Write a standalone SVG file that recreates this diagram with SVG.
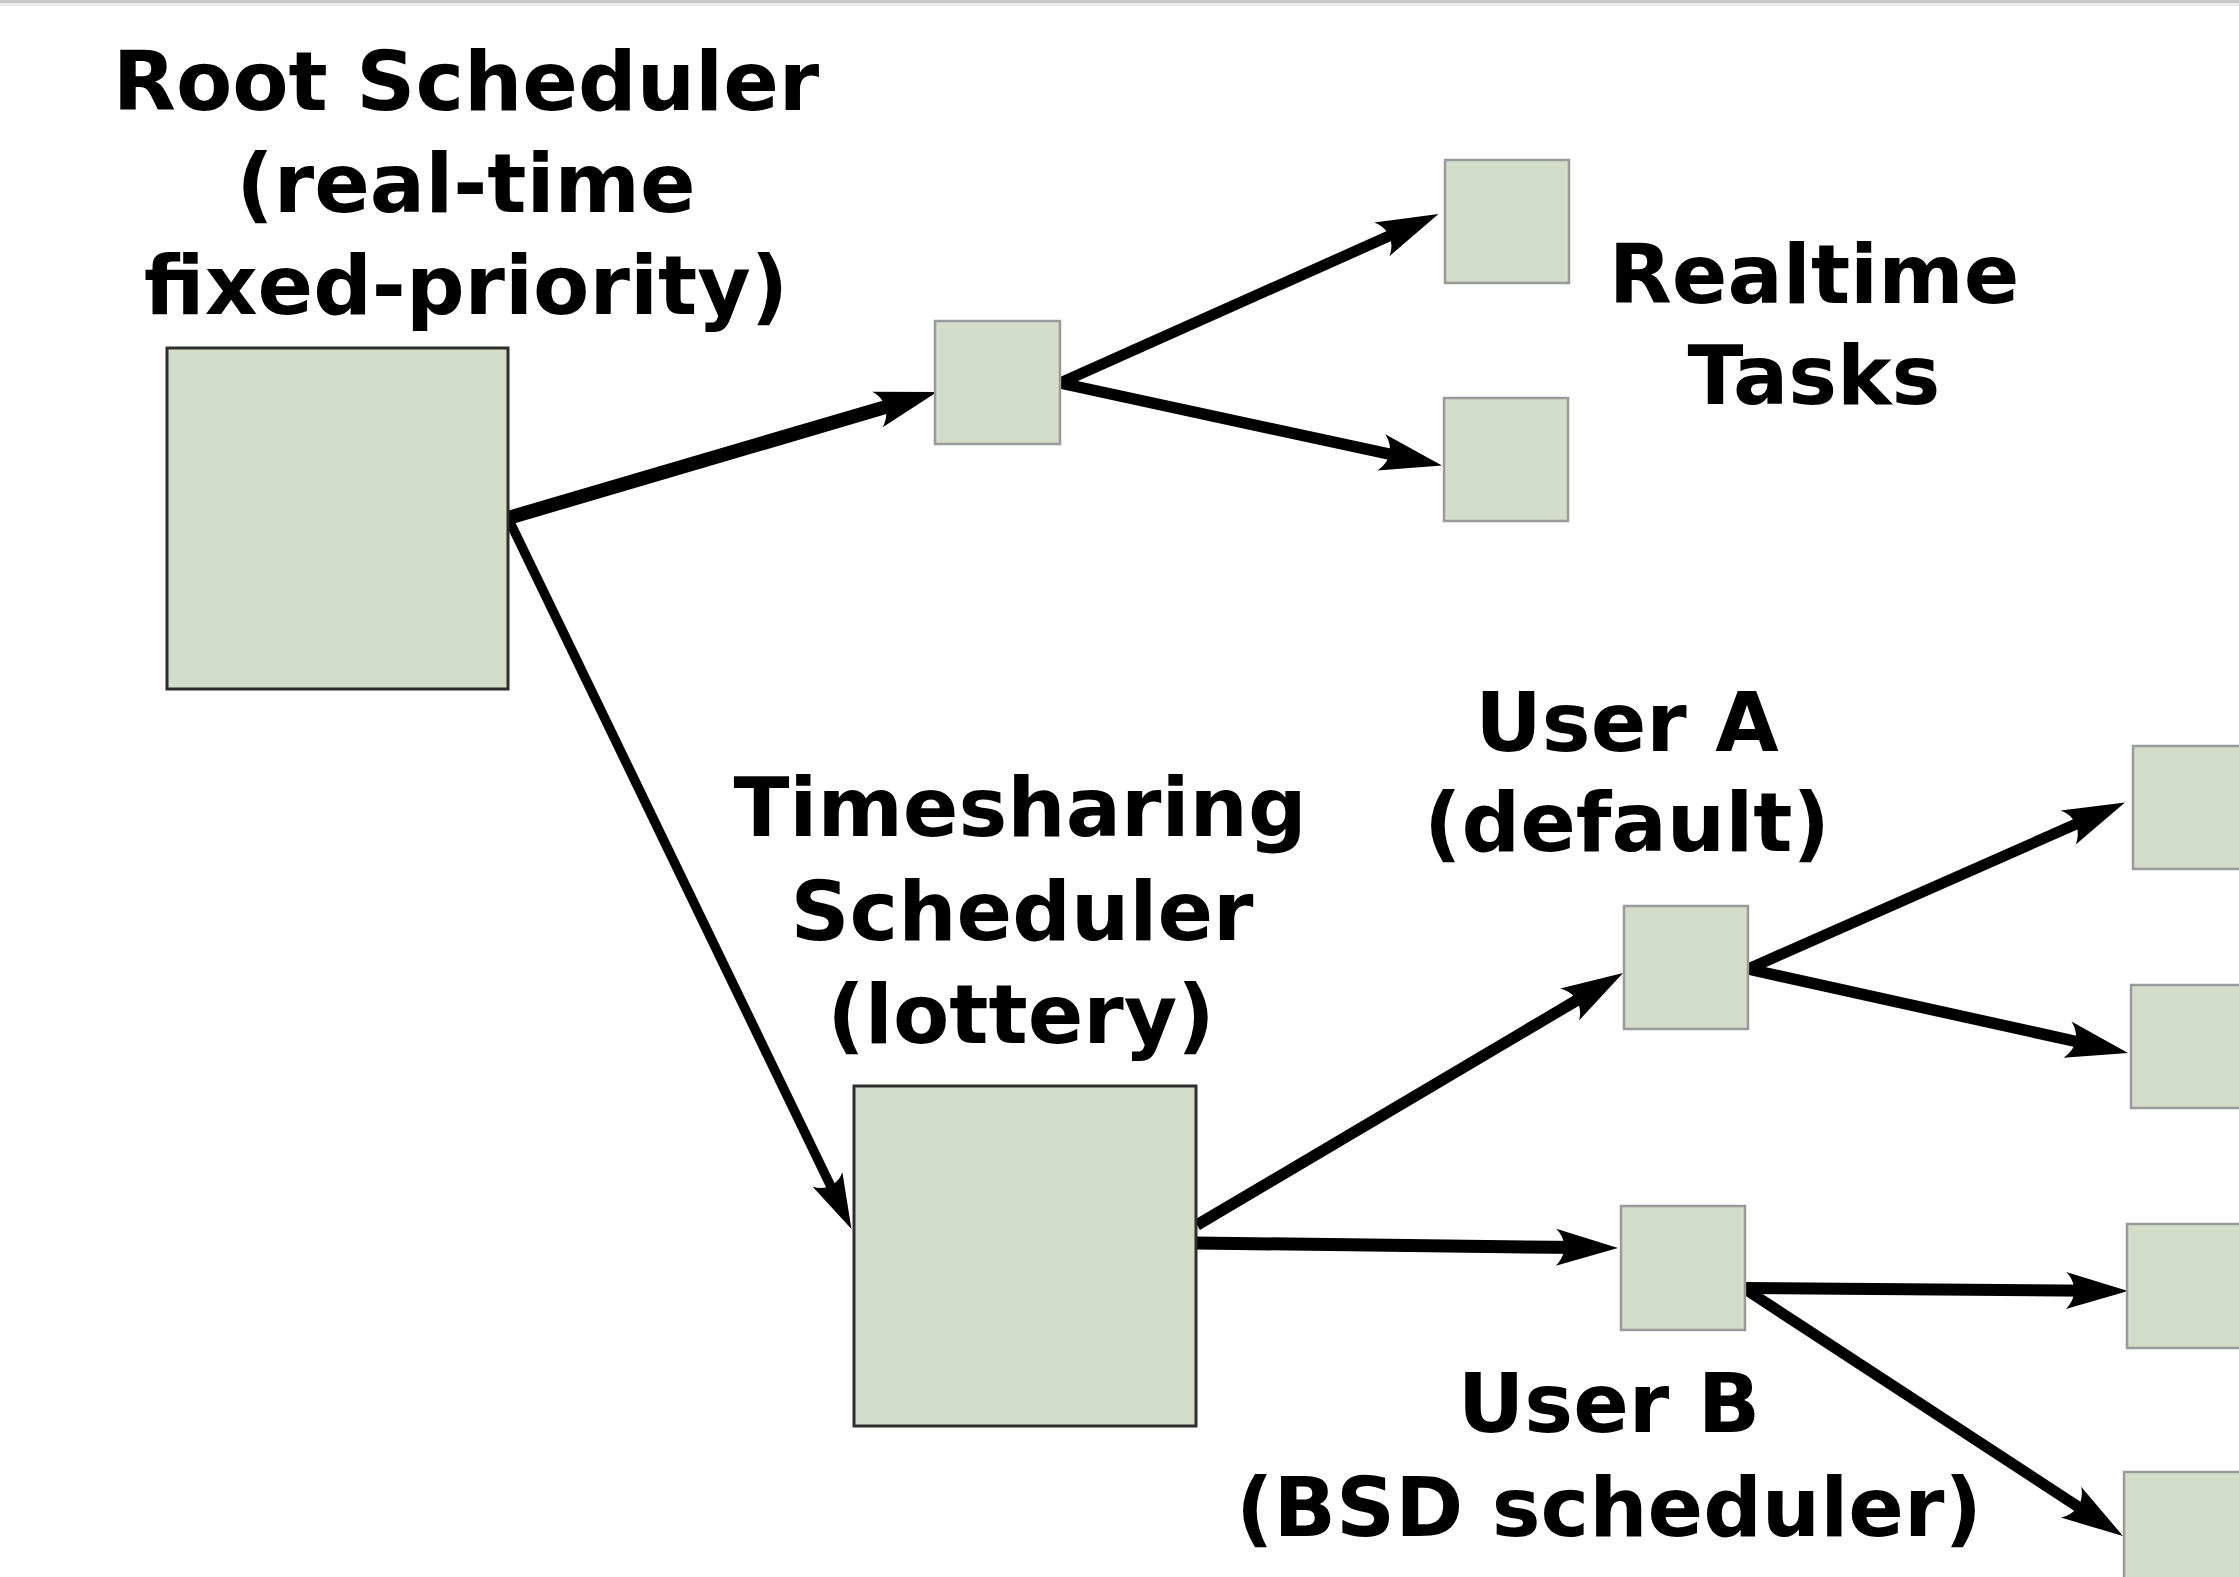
<svg xmlns="http://www.w3.org/2000/svg" width="2239" height="1577" viewBox="0 0 2239 1577">
  <style>
    .label { font-family: "DejaVu Sans", "Liberation Sans", sans-serif; font-weight: bold; font-size: 82px; fill: #000; text-anchor: middle; }
    .big { fill: #d4ddca; stroke: #2e2e2e; stroke-width: 3; }
    .small { fill: #d4ddca; stroke: #9a9a9a; stroke-width: 2.5; }
    .edge { stroke: #000; fill: none; stroke-linecap: butt; }
  </style>
  <defs>
    <!-- barbed arrowhead, origin sits inside the head so the line end stays hidden -->
    <marker id="head" markerUnits="userSpaceOnUse" orient="auto" overflow="visible" refX="0" refY="0" markerWidth="80" markerHeight="50">
      <path d="M 37,0 L -25,-18.5 C -14,-7.5 -14,7.5 -25,18.5 Z" fill="#000"/>
    </marker>
    <marker id="headSm" markerUnits="userSpaceOnUse" orient="auto" overflow="visible" refX="0" refY="0" markerWidth="70" markerHeight="45">
      <path d="M 33,0 L -22,-16.5 C -12.5,-6.8 -12.5,6.8 -22,16.5 Z" fill="#000"/>
    </marker>
  </defs>

  <rect x="0" y="0" width="2239" height="1577" fill="#fff"/>
  <rect x="0" y="0" width="2239" height="3" fill="#c8c8c8"/>
  <rect x="0" y="3" width="2239" height="3" fill="#ececec"/>

  <g id="connectors">
    <line class="edge" x1="508" y1="518" x2="901.5" y2="402.4" stroke-width="14" marker-end="url(#head)"/>
    <line class="edge" x1="508" y1="518" x2="837.1" y2="1199.3" stroke-width="9.5" marker-end="url(#headSm)"/>
    <line class="edge" x1="1060" y1="383" x2="1404.7" y2="229.1" stroke-width="11" marker-end="url(#head)"/>
    <line class="edge" x1="1060" y1="383" x2="1405.8" y2="457.7" stroke-width="11.5" marker-end="url(#head)"/>
    <line class="edge" x1="1197" y1="1225" x2="1591.2" y2="991.8" stroke-width="11.5" marker-end="url(#head)"/>
    <line class="edge" x1="1197" y1="1243" x2="1581" y2="1247.6" stroke-width="13" marker-end="url(#head)"/>
    <line class="edge" x1="1748" y1="969" x2="2091.2" y2="817.4" stroke-width="11" marker-end="url(#head)"/>
    <line class="edge" x1="1748" y1="969" x2="2091.9" y2="1045" stroke-width="11.5" marker-end="url(#head)"/>
    <line class="edge" x1="1745" y1="1288" x2="2091" y2="1290.7" stroke-width="12" marker-end="url(#head)"/>
    <line class="edge" x1="1745" y1="1289" x2="2092" y2="1515.8" stroke-width="11" marker-end="url(#head)"/>
  </g>

  <g id="root-scheduler">
    <rect class="big" x="167" y="348" width="341" height="341"/>
    <text class="label" x="466" y="110">Root Scheduler</text>
    <text class="label" x="466" y="212">(real-time</text>
    <text class="label" x="466" y="314">fixed-priority)</text>
  </g>

  <g id="realtime-queue">
    <rect class="small" x="935" y="321" width="125" height="123"/>
  </g>

  <g id="realtime-task-1">
    <rect class="small" x="1445" y="160" width="124" height="123"/>
  </g>
  <g id="realtime-task-2">
    <rect class="small" x="1444" y="398" width="124" height="123"/>
  </g>
  <g id="realtime-tasks-label">
    <text class="label" x="1814" y="303">Realtime</text>
    <text class="label" x="1814" y="404">Tasks</text>
  </g>

  <g id="timesharing-scheduler">
    <rect class="big" x="854" y="1086" width="342" height="340"/>
    <text class="label" x="1020" y="836">Timesharing</text>
    <text class="label" x="1022" y="940">Scheduler</text>
    <text class="label" x="1021" y="1043">(lottery)</text>
  </g>

  <g id="user-a">
    <rect class="small" x="1624" y="906" width="124" height="123"/>
    <text class="label" x="1627" y="751">User A</text>
    <text class="label" x="1627" y="851">(default)</text>
  </g>

  <g id="user-b">
    <rect class="small" x="1621" y="1206" width="124" height="124"/>
    <text class="label" x="1609" y="1432">User B</text>
    <text class="label" x="1609" y="1536">(BSD scheduler)</text>
  </g>

  <g id="task-a1">
    <rect class="small" x="2133" y="746" width="124" height="123"/>
  </g>
  <g id="task-a2">
    <rect class="small" x="2131" y="985" width="124" height="123"/>
  </g>
  <g id="task-b1">
    <rect class="small" x="2127" y="1224" width="124" height="124"/>
  </g>
  <g id="task-b2">
    <rect class="small" x="2124" y="1472" width="124" height="124"/>
  </g>
</svg>
